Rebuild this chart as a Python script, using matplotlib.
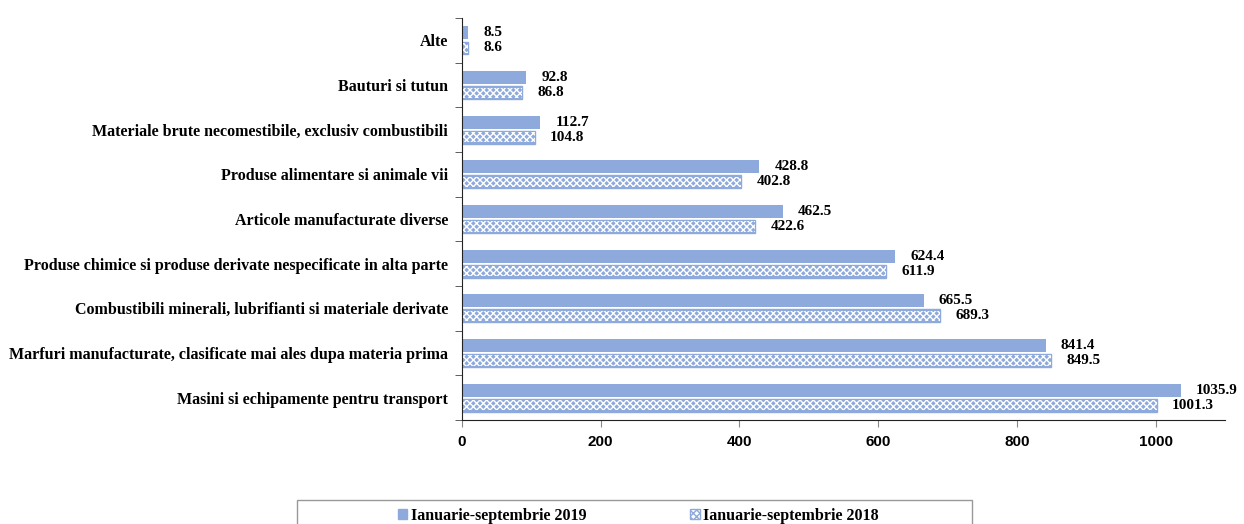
import matplotlib.pyplot as plt
import numpy as np
from matplotlib.patches import Patch, Rectangle

### date
categorii = ["Masini si echipamente pentru transport",
             "Marfuri manufacturate, clasificate mai ales dupa materia prima",
             "Combustibili minerali, lubrifianti si materiale derivate",
             "Produse chimice si produse derivate nespecificate in alta parte",
             "Articole manufacturate diverse",
             "Produse alimentare si animale vii",
             "Materiale brute necomestibile, exclusiv combustibili",
             "Bauturi si tutun",
             "Alte"]
val_2019 = [1035.9, 841.4, 665.5, 624.4, 462.5, 428.8, 112.7, 92.8, 8.5]
val_2018 = [1001.3, 849.5, 689.3, 611.9, 422.6, 402.8, 104.8, 86.8, 8.6]
serii = ["Ianuarie-septembrie 2019", "Ianuarie-septembrie 2018"]
xticks = [0, 200, 400, 600, 800, 1000]

albastru = "#8eaadc"
serif = "Liberation Serif"
sans = "Liberation Sans"
plt.rcParams["hatch.linewidth"] = 1.0

fig = plt.figure(figsize=(12.44, 5.24), dpi=100)
ax = fig.add_axes([0.3714, 0.1985, 0.6133, 0.767])

y = np.arange(len(categorii))
h = 0.29
ax.barh(y + 0.17, val_2019, height=h, color=albastru)
ax.barh(y - 0.17, val_2018, height=h, facecolor=albastru, edgecolor=albastru, linewidth=1.0)
# model hasurat alb peste albastru
ax.barh(y - 0.17, val_2018, height=h - 0.06, facecolor="none", edgecolor="white",
        hatch="xxxxx", linewidth=0)

for i in range(len(categorii)):
    ax.text(val_2019[i] + 22, y[i] + 0.17, "%.1f" % val_2019[i], va="center", ha="left",
            fontsize=11, fontweight="bold", family=serif)
    ax.text(val_2018[i] + 22, y[i] - 0.17, "%.1f" % val_2018[i], va="center", ha="left",
            fontsize=11, fontweight="bold", family=serif)

ax.set_xlim(0, 1100)
ax.set_ylim(-0.5, len(categorii) - 0.5)
ax.set_xticks(xticks)
ax.set_xticklabels([str(t) for t in xticks], fontsize=11, fontweight="bold", family=sans)
ax.set_yticks(np.arange(-0.5, len(categorii), 1), minor=True)
ax.set_yticks(y)
ax.set_yticklabels(categorii, fontsize=11.5, fontweight="bold", family=serif)
ax.tick_params(axis="y", which="major", length=0, pad=10)
ax.tick_params(axis="y", which="minor", length=5, color="#444444")
ax.tick_params(axis="x", length=5, color="#888888", pad=6)

for sp in ["top", "right"]:
    ax.spines[sp].set_visible(False)
ax.spines["left"].set_color("#222222")
ax.spines["bottom"].set_color("#222222")

### legenda
fig.patches.append(Rectangle((297 / 1244, -0.05), 675 / 1244, 0.05 + 24 / 524,
                             transform=fig.transFigure, facecolor="white",
                             edgecolor="#999999", linewidth=1.0))
handles = [Patch(facecolor=albastru, edgecolor=albastru),
           Patch(facecolor="white", edgecolor=albastru, hatch="xxxxx")]
leg = fig.legend(handles, serii, loc="center", bbox_to_anchor=(0.513, 1 - 516 / 524), ncol=2,
                 frameon=False, columnspacing=6.5,
                 handlelength=0.6, handleheight=0.6, handletextpad=0.2, borderpad=0,
                 prop={"family": serif, "weight": "bold", "size": 11.5})

plt.savefig("out.png", dpi=100)
plt.close("all")
